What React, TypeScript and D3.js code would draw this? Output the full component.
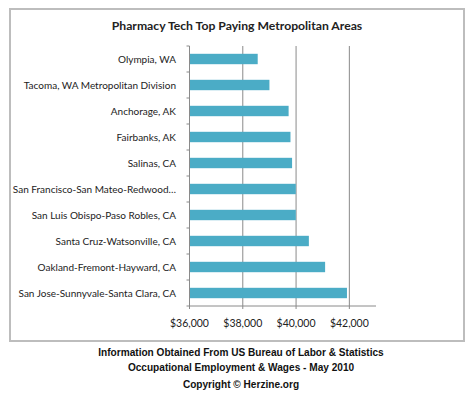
import React, { useRef, useEffect } from "react";
import * as d3 from "d3";

const areas = [
  "Olympia, WA",
  "Tacoma, WA Metropolitan Division",
  "Anchorage, AK",
  "Fairbanks, AK",
  "Salinas, CA",
  "San Francisco-San Mateo-Redwood…",
  "San Luis Obispo-Paso Robles, CA",
  "Santa Cruz-Watsonville,  CA",
  "Oakland-Fremont-Hayward,  CA",
  "San Jose-Sunnyvale-Santa Clara, CA",
];
const wages = [38560, 39000, 39720, 39790, 39850, 39990, 39990, 40480, 41090, 41910];
const tickValues = [36000, 38000, 40000, 42000];

const W = 474;
const H = 395;

export default function App() {
  const svgRef = useRef<SVGSVGElement>(null);

  useEffect(() => {
    if (!svgRef.current) return;
    const svg = d3.select(svgRef.current);
    svg.selectAll("*").remove();

    const font = "Lato, 'Open Sans', sans-serif";

    svg.append("rect").attr("width", W).attr("height", H).attr("fill", "#fff");

    // chart frame
    svg
      .append("rect")
      .attr("x", 10)
      .attr("y", 9)
      .attr("width", 454)
      .attr("height", 332)
      .attr("fill", "#fff")
      .attr("stroke", "#bdbdbd")
      .attr("stroke-width", 2);

    svg
      .append("text")
      .attr("x", 237)
      .attr("y", 30)
      .attr("text-anchor", "middle")
      .attr("font-family", font)
      .attr("font-weight", "bold")
      .attr("font-size", 12.2)
      .attr("fill", "#222")
      .text("Pharmacy Tech Top Paying Metropolitan Areas");

    const x = d3.scaleLinear().domain([36000, 43000]).range([189.5, 376]);
    const y = d3.scaleBand<string>().domain(areas).range([46, 306]).paddingInner(0.6).paddingOuter(0.3);

    const g = svg.append("g");

    // gridlines
    g.selectAll(".grid")
      .data(tickValues.slice(1))
      .join("line")
      .attr("x1", (d) => x(d))
      .attr("x2", (d) => x(d))
      .attr("y1", 46)
      .attr("y2", 306)
      .attr("stroke", "#8a8a8a")
      .attr("stroke-width", 1);

    // bars
    g.selectAll(".bar")
      .data(areas)
      .join("rect")
      .attr("x", x(36000))
      .attr("y", (d) => y(d)!)
      .attr("width", (d, i) => x(wages[i]) - x(36000))
      .attr("height", y.bandwidth())
      .attr("fill", "#4bacc6");

    // axes
    const step = (306 - 46) / areas.length;
    g.append("line")
      .attr("x1", x(36000))
      .attr("x2", x(36000))
      .attr("y1", 46)
      .attr("y2", 306)
      .attr("stroke", "#8a8a8a");
    g.selectAll(".ytick")
      .data(d3.range(areas.length + 1))
      .join("line")
      .attr("x1", x(36000) - 3)
      .attr("x2", x(36000))
      .attr("y1", (i) => 46 + i * step)
      .attr("y2", (i) => 46 + i * step)
      .attr("stroke", "#8a8a8a");
    g.append("line")
      .attr("x1", x(36000))
      .attr("x2", x(43000))
      .attr("y1", 306)
      .attr("y2", 306)
      .attr("stroke", "#8a8a8a");
    g.selectAll(".xtick")
      .data(tickValues)
      .join("line")
      .attr("x1", (d) => x(d))
      .attr("x2", (d) => x(d))
      .attr("y1", 306)
      .attr("y2", 309)
      .attr("stroke", "#8a8a8a");

    // labels
    g.selectAll(".ylab")
      .data(areas)
      .join("text")
      .attr("x", 176)
      .attr("y", (d) => y(d)! + y.bandwidth() / 2)
      .attr("dy", "0.35em")
      .attr("text-anchor", "end")
      .attr("font-family", font)
      .attr("font-size", 10)
      .attr("fill", "#222")
      .text((d) => d);

    const fmt = d3.format("$,.0f");
    g.selectAll(".xlab")
      .data(tickValues)
      .join("text")
      .attr("x", (d) => x(d))
      .attr("y", 327)
      .attr("text-anchor", "middle")
      .attr("font-family", font)
      .attr("font-size", 10.5)
      .attr("fill", "#222")
      .text((d) => fmt(d));

    // footer
    const foot = [
      ["Information Obtained From US Bureau of Labor & Statistics", 356],
      ["Occupational Employment & Wages - May 2010", 371],
      ["Copyright © Herzine.org", 388],
    ] as const;
    svg
      .selectAll(".foot")
      .data(foot)
      .join("text")
      .attr("x", 241)
      .attr("y", (d) => d[1])
      .attr("text-anchor", "middle")
      .attr("font-family", "'Liberation Sans', Arial, sans-serif")
      .attr("font-weight", "bold")
      .attr("font-size", 10.1)
      .attr("fill", "#111")
      .text((d) => d[0]);
  }, []);

  return (
    <svg
      ref={svgRef}
      width={W}
      height={H}
      style={{ position: "absolute", left: 0, top: 0, display: "block" }}
    ></svg>
  );
}
